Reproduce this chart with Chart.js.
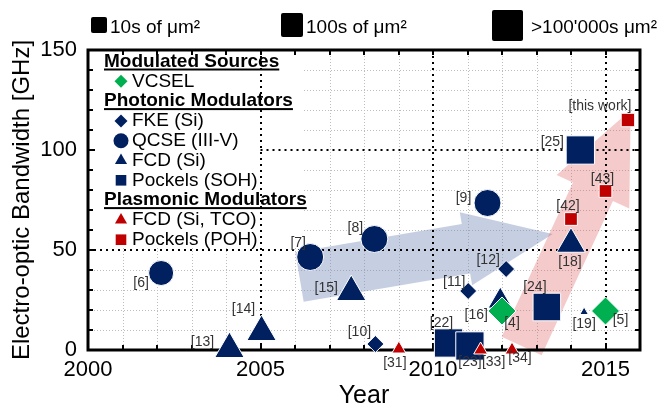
<!DOCTYPE html>
<html>
<head>
<meta charset="utf-8">
<script src="https://cdn.jsdelivr.net/npm/chart.js@4.4.1/dist/chart.umd.min.js"></script>
<style>
  html, body { margin: 0; padding: 0; background: #fff; }
  #wrap { width: 661px; height: 411px; }
</style>
</head>
<body>
<div id="wrap"><canvas id="bwChart"></canvas></div>
<script>
// publication year and electro-optic bandwidth [GHz]
const vcselYear = [2012.0, 2015.0];
const vcselGHz  = [19.5, 19.5];
const vcselRefs = ['[4]', '[5]'];

const fkeYear = [2008.33, 2011.02, 2012.12];
const fkeGHz  = [3, 29.5, 40.5];
const fkeRefs = ['[10]', '[11]', '[12]'];

const qcseYear = [2002.12, 2006.44, 2008.3, 2011.58];
const qcseGHz  = [38.5, 46.5, 55.5, 73.5];
const qcseRefs = ['[6]', '[7]', '[8]', '[9]'];

const fcdYear = [2004.1, 2005.03, 2007.63, 2011.95, 2014.0, 2014.38];
const fcdGHz  = [0.5, 9, 29, 24.5, 53, 19];
const fcdRefs = ['[13]', '[14]', '[15]', '[16]', '[18]', '[19]'];

const sohYear = [2010.45, 2011.07, 2013.3, 2014.27];
const sohGHz  = [3.5, 2, 21.5, 100];
const sohRefs = ['[22]', '[23]', '[24]', '[25]'];

const tcoYear = [2009.01, 2011.38, 2012.29];
const tcoGHz  = [0.5, 0, 0];
const tcoRefs = ['[31]', '[33]', '[34]'];

const pohYear = [2014.0, 2015.0, 2015.65];
const pohGHz  = [65.5, 79.5, 115];
const pohRefs = ['[42]', '[43]', '[this work]'];

// device footprint classes shown in the key above the plot
const areaLabels = ['10s of μm²', '100s of μm²', ">100'000s μm²"];

// trend arrows: [tail year, tail GHz, tip year, tip GHz]
const photonicTrend  = [2006.13, 36.5, 2013.47, 58];
const plasmonicTrend = [2012.57, 2, 2015.73, 120];

// marker radii (px) and label offsets (px), per point
const vcselSize = [14, 14],                 vcselLbl = [[10, 12], [15, 9]];
const fkeSize   = [8.5, 8.5, 8.5],          fkeLbl   = [[-16, -12], [-14, -9], [-18, -9]];
const qcseSize  = [12.5, 13.5, 13.5, 13.5], qcseLbl  = [[-20, 10], [-12, -14], [-19, -11], [-24, -5]];
const fcdSize   = [17, 17, 17, 14, 16.5, 5];
const fcdLbl    = [[-27, -7], [-18, -23], [-25, -4], [-24, 14], [-1, 18], [0, 12]];
const sohSize   = [20, 20, 19.5, 20],       sohLbl   = [[-7, -20], [0, 16], [-12, -20], [-28, -8]];
const tcoSize   = [8, 8, 8],                tcoLbl   = [[-4, 14], [13, 12], [8, 8]];
const pohSize   = [9, 9, 9.5],              pohLbl   = [[-3, -13], [-3, -12], [-28, -14]];

const NAVY = '#002060', RED = '#c00000', GREEN = '#00b050';
const FONT = "'Liberation Sans', Arial, sans-serif";

function series(label, xs, ys, style, color, sizes) {
  return {
    label: label,
    data: xs.map((x, i) => ({ x: x, y: ys[i] })),
    pointStyle: style,
    backgroundColor: color,
    borderColor: '#ffffff',
    borderWidth: 1,
    pointRadius: sizes,
    pointHoverRadius: sizes,
    showLine: false,
    clip: false
  };
}

// first dataset is painted last (on top)
const datasets = [
  series('VCSEL', vcselYear, vcselGHz, 'rectRot', GREEN, vcselSize),
  series('FCD (Si, TCO)', tcoYear, tcoGHz, 'triangle', RED, tcoSize),
  series('Pockels (POH)', pohYear, pohGHz, 'rect', RED, pohSize),
  series('FKE (Si)', fkeYear, fkeGHz, 'rectRot', NAVY, fkeSize),
  series('QCSE (III-V)', qcseYear, qcseGHz, 'circle', NAVY, qcseSize),
  series('FCD (Si)', fcdYear, fcdGHz, 'triangle', NAVY, fcdSize),
  series('Pockels (SOH)', sohYear, sohGHz, 'rect', NAVY, sohSize)
];
const refLists = [vcselRefs, tcoRefs, pohRefs, fkeRefs, qcseRefs, fcdRefs, sohRefs];
const lblLists = [vcselLbl, tcoLbl, pohLbl, fkeLbl, qcseLbl, fcdLbl, sohLbl];

function arrow(ctx, x, y, spec, bw, hw, hl, color) {
  const x0 = x.getPixelForValue(spec[0]), y0 = y.getPixelForValue(spec[1]);
  const x1 = x.getPixelForValue(spec[2]), y1 = y.getPixelForValue(spec[3]);
  const L = Math.hypot(x1 - x0, y1 - y0);
  const ux = (x1 - x0) / L, uy = (y1 - y0) / L, nx = -uy, ny = ux;
  const bx = x1 - ux * hl, by = y1 - uy * hl;
  ctx.beginPath();
  ctx.moveTo(x0 + nx * bw, y0 + ny * bw);
  ctx.lineTo(bx + nx * bw, by + ny * bw);
  ctx.lineTo(bx + nx * hw, by + ny * hw);
  ctx.lineTo(x1, y1);
  ctx.lineTo(bx - nx * hw, by - ny * hw);
  ctx.lineTo(bx - nx * bw, by - ny * bw);
  ctx.lineTo(x0 - nx * bw, y0 - ny * bw);
  ctx.closePath();
  ctx.fillStyle = color;
  ctx.fill();
}

function seg(ctx, ax, ay, bx, by) {
  ctx.beginPath(); ctx.moveTo(ax, ay); ctx.lineTo(bx, by); ctx.stroke();
}

const backdrop = {
  id: 'backdrop',
  beforeDatasetsDraw(chart) {
    const { ctx, chartArea: a, scales: { x, y } } = chart;
    ctx.save();
    // fine grid every year / 10 GHz
    ctx.setLineDash([1, 2]);
    ctx.lineWidth = 1;
    ctx.strokeStyle = '#bdbdbd';
    x.ticks.forEach(t => {
      if (t.value % 5 === 0) return;
      const px = Math.round(x.getPixelForValue(t.value)) + 0.5;
      seg(ctx, px, a.top, px, a.bottom);
    });
    y.ticks.forEach(t => {
      if (t.value % 50 === 0) return;
      const py = Math.round(y.getPixelForValue(t.value)) + 0.5;
      seg(ctx, a.left, py, a.right, py);
    });
    // white backing of the inner key
    ctx.fillStyle = '#ffffff';
    ctx.fillRect(a.left + 1, a.top + 1, 213, 197);

    arrow(ctx, x, y, photonicTrend, 25, 37, 88, 'rgba(120,140,185,0.42)');
    arrow(ctx, x, y, plasmonicTrend, 22, 40, 90, 'rgba(222,90,90,0.32)');

    // coarse dotted grid
    ctx.setLineDash([2, 4]);
    ctx.lineWidth = 2;
    ctx.strokeStyle = '#000';
    x.ticks.forEach(t => {
      if (t.value % 5 !== 0 || t.value === x.min) return;
      const px = Math.round(x.getPixelForValue(t.value));
      seg(ctx, px, a.top, px, a.bottom);
    });
    y.ticks.forEach(t => {
      if (t.value % 50 !== 0 || t.value === y.min || t.value === y.max) return;
      const py = Math.round(y.getPixelForValue(t.value));
      const from = t.value >= 100 ? x.getPixelForValue(2005) : a.left;
      seg(ctx, from, py, a.right, py);
    });

    // inward ticks
    ctx.setLineDash([]);
    ctx.lineWidth = 2;
    x.ticks.forEach(t => {
      const px = Math.round(x.getPixelForValue(t.value));
      const len = t.value % 5 === 0 ? 7 : 5;
      seg(ctx, px, a.bottom, px, a.bottom - len);
      seg(ctx, px, a.top, px, a.top + 5);
    });
    y.ticks.forEach(t => {
      const py = Math.round(y.getPixelForValue(t.value));
      const len = t.value % 50 === 0 ? 7 : 5;
      seg(ctx, a.left, py, a.left + len, py);
      seg(ctx, a.right, py, a.right - 5, py);
    });

    ctx.lineWidth = 3;
    ctx.strokeRect(a.left, a.top, a.right - a.left, a.bottom - a.top);
    ctx.restore();
  },

  afterDatasetsDraw(chart) {
    const { ctx } = chart;
    ctx.save();
    // reference tags beside each point
    ctx.font = '14px ' + FONT;
    ctx.fillStyle = '#333';
    ctx.textAlign = 'center';
    ctx.textBaseline = 'middle';
    chart.data.datasets.forEach((ds, i) => {
      chart.getDatasetMeta(i).data.forEach((pt, j) => {
        const off = lblLists[i][j];
        ctx.fillText(refLists[i][j], pt.x + off[0], pt.y + off[1]);
      });
    });

    // inner key with group headings
    const rows = [
      ['Modulated Sources'], [0],
      ['Photonic Modulators'], [3], [4], [5], [6],
      ['Plasmonic Modulators'], [1], [2]
    ];
    const keySize = { rectRot: 6.5, circle: 7.5, triangle: 7, rect: 7.5 };
    ctx.textAlign = 'left';
    rows.forEach((r, k) => {
      const cy = 61.5 + k * 19.8;
      if (typeof r[0] === 'string') {
        ctx.font = 'bold 19px ' + FONT;
        ctx.fillStyle = '#000';
        ctx.fillText(r[0], 104, cy);
        ctx.fillRect(104, cy + 7, ctx.measureText(r[0]).width, 2);
      } else {
        const ds = chart.data.datasets[r[0]];
        ctx.fillStyle = ds.backgroundColor;
        Chart.helpers.drawPoint(ctx, { pointStyle: ds.pointStyle, radius: keySize[ds.pointStyle], borderWidth: 0, rotation: 0 }, 121, cy);
        ctx.font = '19px ' + FONT;
        ctx.fillStyle = '#000';
        ctx.fillText(ds.label, 132, cy);
      }
    });
    ctx.restore();
  },

  afterDraw(chart) {
    // footprint key above the plot
    const { ctx } = chart;
    const boxes = [[91, 17, 16, 16], [281, 13, 22, 24], [492, 10, 31, 31]];
    const gaps = [3, 3, 8];
    ctx.save();
    ctx.fillStyle = '#000';
    ctx.font = '19px ' + FONT;
    ctx.textBaseline = 'alphabetic';
    areaLabels.forEach((txt, i) => {
      const b = boxes[i];
      ctx.beginPath();
      ctx.roundRect(b[0], b[1], b[2], b[3], 2);
      ctx.fill();
      ctx.fillText(txt, b[0] + b[2] + gaps[i], 33);
    });
    ctx.restore();
  }
};

Chart.defaults.font.family = FONT;
Chart.defaults.color = '#000';

new Chart(document.getElementById('bwChart'), {
  type: 'scatter',
  data: { datasets: datasets },
  options: {
    responsive: true,
    maintainAspectRatio: false,
    animation: false,
    events: [],
    layout: { padding: { top: 50, right: 6, bottom: 0, left: 0 } },
    plugins: { legend: { display: false }, tooltip: { enabled: false } },
    scales: {
      x: {
        type: 'linear', min: 2000, max: 2016,
        grid: { display: false, drawTicks: false, tickLength: 0 },
        border: { display: false },
        ticks: {
          stepSize: 1, autoSkip: false, maxRotation: 0, padding: 7,
          font: { size: 22 },
          callback: v => (v % 5 === 0 ? String(v) : '')
        },
        title: { display: true, text: 'Year', font: { size: 25 }, padding: { top: 0, bottom: 0 } },
        afterFit: s => { s.height = 61; }
      },
      y: {
        min: 0, max: 150,
        grid: { display: false, drawTicks: false, tickLength: 0 },
        border: { display: false },
        ticks: {
          stepSize: 10, autoSkip: false, padding: 11,
          font: { size: 22 },
          callback: v => (v % 50 === 0 ? String(v) : '')
        },
        title: { display: true, text: 'Electro-optic Bandwidth [GHz]', font: { size: 24 }, padding: { top: 8, bottom: 0 } },
        afterFit: s => { s.width = 88; }
      }
    }
  },
  plugins: [backdrop]
});
</script>
</body>
</html>
